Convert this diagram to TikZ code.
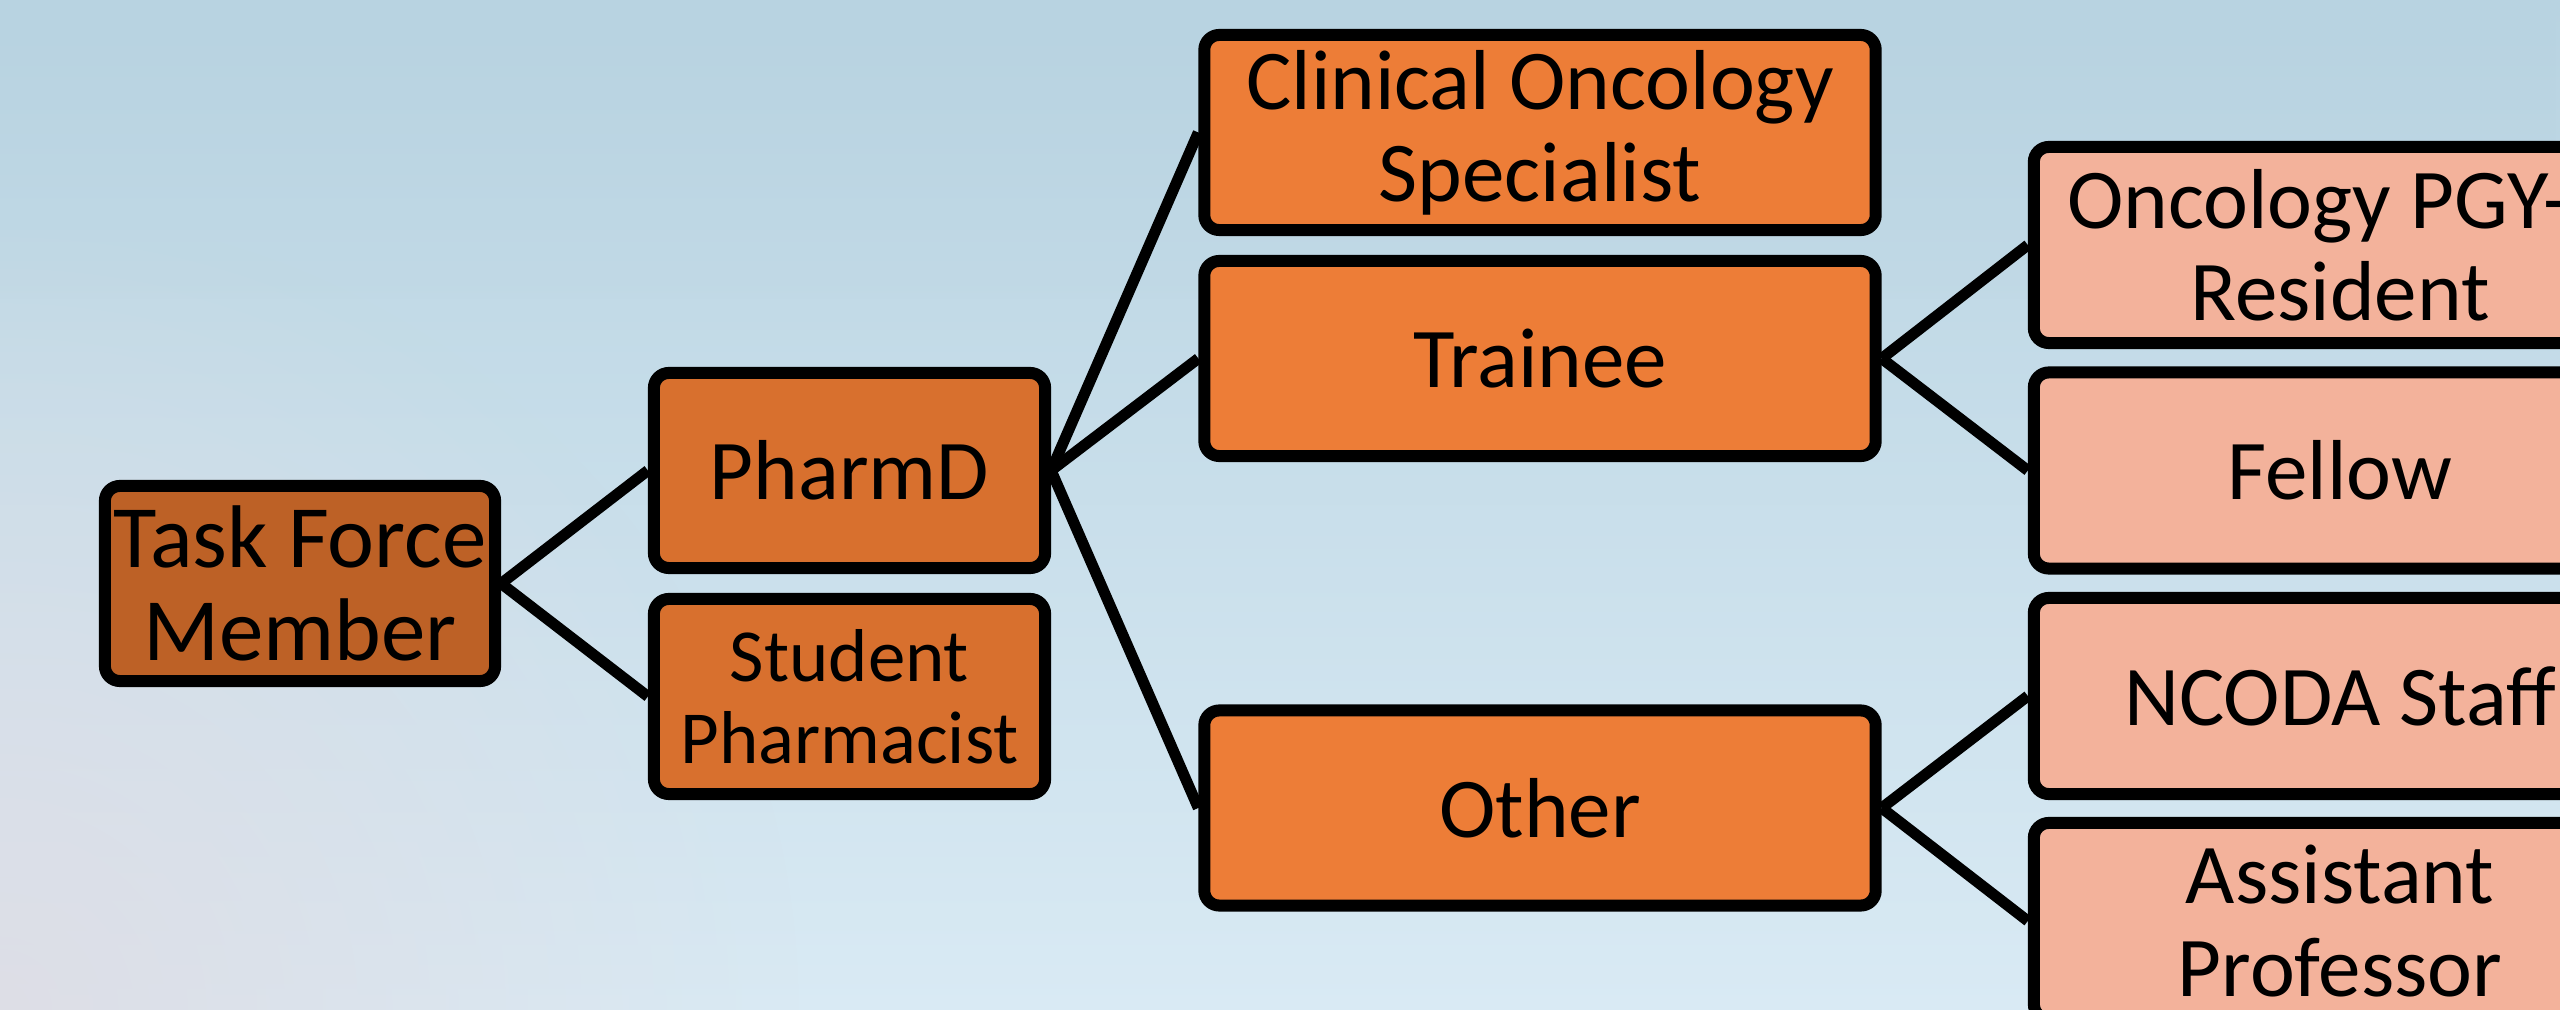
\documentclass[tikz,border=0pt]{standalone}
\usepackage{fontspec}
\setmainfont{Carlito}
\usetikzlibrary{fadings}
\tikzfading[name=pinkfade, inner color=transparent!0, outer color=transparent!100]
\definecolor{bgtop}{HTML}{B8D3E1}
\definecolor{bgbot}{HTML}{D9EAF4}
\definecolor{bgpink}{HTML}{DEDDE5}
\definecolor{lvlA}{HTML}{BD6126}
\definecolor{lvlB}{HTML}{D8702E}
\definecolor{lvlC}{HTML}{ED7D37}
\definecolor{lvlD}{HTML}{F3B29B}
\tikzset{
  box/.style={draw=black, line width=0.12cm, rounded corners=0.15cm, align=center,
    inner sep=0pt, text=black, font=\fontsize{24.2pt}{26.2pt}\selectfont},
  boxA/.style={box, fill=lvlA, minimum width=3.90cm, minimum height=1.95cm},
  boxB/.style={box, fill=lvlB, minimum width=3.91cm, minimum height=1.95cm},
  boxC/.style={box, fill=lvlC, minimum width=6.71cm, minimum height=1.95cm},
  boxD/.style={box, fill=lvlD, minimum width=6.12cm, minimum height=1.96cm},
  link/.style={draw=black, line width=0.11cm}
}
\begin{document}
\begin{tikzpicture}[x=0.01cm, y=-0.01cm]
\useasboundingbox (0,0) rectangle (2560,1010);
\begin{scope}
\clip (0,0) rectangle (2560,1010);
\shade[top color=bgtop, bottom color=bgbot] (0,0) rectangle (2560,1010);
\fill[bgpink, path fading=pinkfade, fill opacity=0.9] (0,1010) circle (800);
\fill[bgtop, path fading=south, fill opacity=0.4] (0,0) rectangle (2560,300);

\node[boxA, font=\fontsize{25.3pt}{26.4pt}\selectfont] (tfm) at (300,583.5) {Task Force\\Member};
\node[boxB] (pharmd) at (849.5,470.5) {PharmD};
\node[boxB, font=\fontsize{21.3pt}{23.3pt}\selectfont] (student) at (849.5,696.5) {Student\\Pharmacist};
\node[boxC] (clin) at (1540,132.5) {Clinical Oncology\\Specialist};
\node[boxC] (trainee) at (1540,358.5) {Trainee};
\node[boxC] (other) at (1540,808) {Other};
\node[boxD] (pgy) at (2340,245) {Oncology PGY-\phantom{1}\\Resident};
\node[boxD] (fellow) at (2340,470.5) {Fellow};
\node[boxD] (ncoda) at (2340,696) {NCODA Staff};
\node[boxD] (asst) at (2340,921) {Assistant\\Professor};

\draw[link] (tfm.east) -- (pharmd.west);
\draw[link] (tfm.east) -- (student.west);
\draw[link] (pharmd.east) -- (clin.west);
\draw[link] (pharmd.east) -- (trainee.west);
\draw[link] (pharmd.east) -- (other.west);
\draw[link] (trainee.east) -- (pgy.west);
\draw[link] (trainee.east) -- (fellow.west);
\draw[link] (other.east) -- (ncoda.west);
\draw[link] (other.east) -- (asst.west);
\end{scope}
\end{tikzpicture}
\end{document}
